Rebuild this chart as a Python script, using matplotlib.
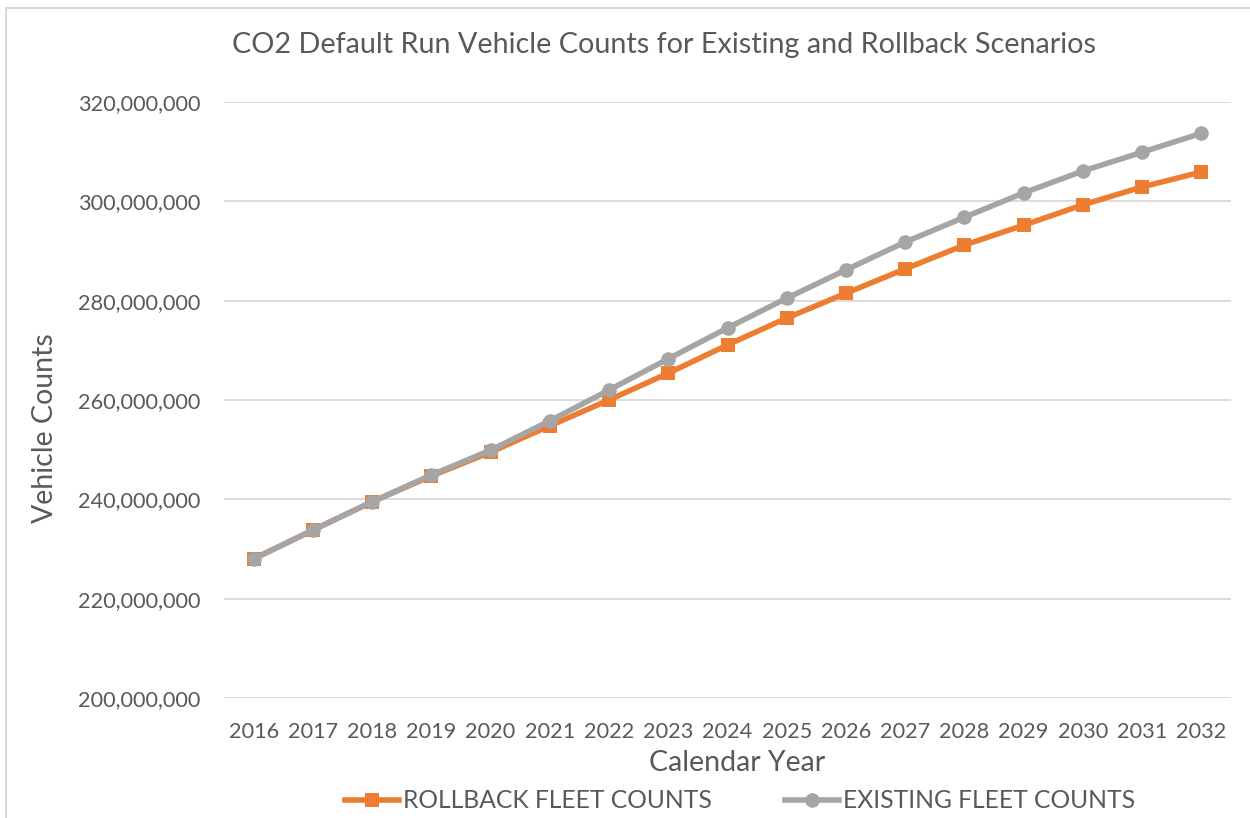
import matplotlib
matplotlib.use("Agg")
import matplotlib.pyplot as plt
from matplotlib.ticker import FuncFormatter, MultipleLocator
from matplotlib.patches import Rectangle

years = [2016, 2017, 2018, 2019, 2020, 2021, 2022, 2023, 2024,
         2025, 2026, 2027, 2028, 2029, 2030, 2031, 2032]
rollback_counts = [228.0, 233.8, 239.5, 244.7, 249.5, 254.8, 260.0, 265.4, 271.1,
                   276.5, 281.5, 286.4, 291.2, 295.2, 299.3, 302.9, 305.9]
existing_counts = [228.0, 233.8, 239.5, 244.9, 249.9, 255.8, 262.0, 268.3, 274.5,
                   280.5, 286.2, 291.8, 296.8, 301.7, 306.1, 309.9, 313.7]
rollback_counts = [v * 1e6 for v in rollback_counts]
existing_counts = [v * 1e6 for v in existing_counts]

TEXT = "#595959"
ORANGE = "#ED7D31"
GRAY = "#A5A5A5"
GRID = "#D9D9D9"
FONT = ["Lato", "DejaVu Sans"]

plt.rcParams["font.family"] = FONT

W, H = 1250, 818
fig = plt.figure(figsize=(W / 100, H / 100), dpi=100)
fig.patch.set_facecolor("white")

# chart frame
fig.patches.append(Rectangle((6 / W, -0.1), 1.2, (H - 8) / H + 0.1,
                             transform=fig.transFigure, fill=False,
                             edgecolor="#D9D9D9", linewidth=1.5))

left, right, top, bottom = 224, 1231, 102, 698
ax = fig.add_axes([left / W, (H - bottom) / H, (right - left) / W, (bottom - top) / H])

x = list(range(len(years)))
ax.plot(x, rollback_counts, color=ORANGE, linewidth=4.0, marker="s",
        markersize=9.5, markeredgewidth=0, label="ROLLBACK FLEET COUNTS", zorder=3)
ax.plot(x, existing_counts, color=GRAY, linewidth=4.0, marker="o",
        markersize=10.5, markeredgewidth=0, label="EXISTING FLEET COUNTS", zorder=4)

ax.set_xlim(-0.5, len(years) - 0.5)
ax.set_ylim(200e6, 320e6)
ax.yaxis.set_major_locator(MultipleLocator(20e6))
ax.yaxis.set_major_formatter(FuncFormatter(lambda v, p: f"{v:,.0f}"))
ax.set_xticks(x)
ax.set_xticklabels([str(y) for y in years])

ax.grid(axis="y", color=GRID, linewidth=1.3)
ax.set_axisbelow(True)
for s in ax.spines.values():
    s.set_visible(False)
ax.tick_params(axis="both", length=0, labelsize=15.6, labelcolor=TEXT)
ax.tick_params(axis="y", pad=17)
ax.tick_params(axis="x", pad=17)

ax.set_xlabel("Calendar Year", fontsize=20.5, color=TEXT)
ax.set_ylabel("Vehicle Counts", fontsize=20.5, color=TEXT)
ax.xaxis.set_label_coords((737 - left) / (right - left), -(763 - bottom) / (bottom - top),
                          transform=ax.transAxes)
ax.xaxis.label.set_va("center")
ax.yaxis.set_label_coords(-(left - 45) / (right - left), (bottom - 428) / (bottom - top),
                          transform=ax.transAxes)
ax.yaxis.label.set_va("center")

fig.text(664 / W, 1 - 45 / H, "CO2 Default Run Vehicle Counts for Existing and Rollback Scenarios",
         ha="center", va="center", fontsize=20.7, color=TEXT)

leg = fig.legend(loc="center", bbox_to_anchor=(740 / W, 1 - 801 / H), ncol=2,
                 frameon=False, fontsize=17.7, handlelength=2.2, handletextpad=0.15,
                 columnspacing=3.0, labelcolor=TEXT)

fig.savefig("out.png", dpi=100, facecolor="white")
